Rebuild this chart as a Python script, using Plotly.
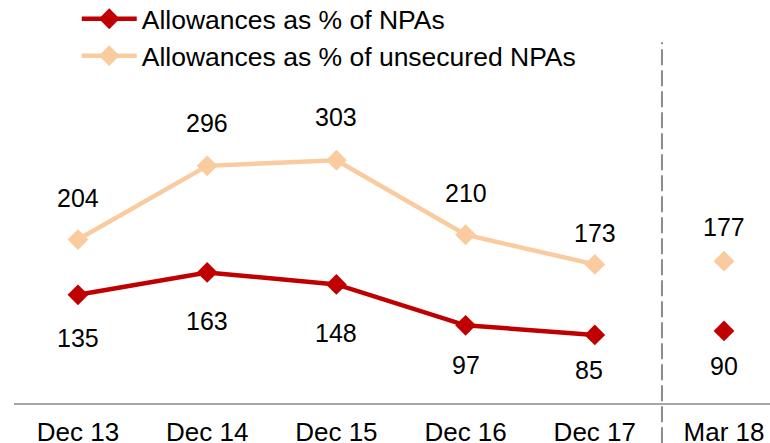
import plotly.graph_objects as go

categories = ["Dec 13", "Dec 14", "Dec 15", "Dec 16", "Dec 17", "Mar 18"]
allow_npa = [135, 163, 148, 97, 85, 90]
allow_unsec = [204, 296, 303, 210, 173, 177]

RED = "#C00000"
PEACH = "#F9CB9F"
FONT = "Liberation Sans, Arial, sans-serif"
FS = 25
MS = 16

# label offsets (styling)
up_shift = [42, 43, 43, 42, 31, 34]
dn_shift = [-43, -49, -49, -40, -35, -35]
dn_xshift = [0, 0, 0, 0, -6, 0]

x = list(range(len(categories)))
n_line = 5

fig = go.Figure()
fig.add_trace(go.Scatter(
    x=x[:n_line], y=allow_npa[:n_line], mode="lines+markers",
    name="Allowances as % of NPAs",
    line=dict(color=RED, width=4.5),
    marker=dict(symbol="diamond", size=MS, color=RED),
    legend="legend",
))
fig.add_trace(go.Scatter(
    x=x[:n_line], y=allow_unsec[:n_line], mode="lines+markers",
    name="Allowances as % of unsecured NPAs",
    line=dict(color=PEACH, width=4.5),
    marker=dict(symbol="diamond", size=MS, color=PEACH),
    legend="legend2",
))
fig.add_trace(go.Scatter(
    x=x[n_line:], y=allow_npa[n_line:], mode="markers", showlegend=False,
    marker=dict(symbol="diamond", size=MS, color=RED),
))
fig.add_trace(go.Scatter(
    x=x[n_line:], y=allow_unsec[n_line:], mode="markers", showlegend=False,
    marker=dict(symbol="diamond", size=MS, color=PEACH),
))

for i in x:
    fig.add_annotation(x=i, y=allow_unsec[i], text=str(allow_unsec[i]),
                       showarrow=False, yshift=up_shift[i],
                       font=dict(size=FS, color="#000000", family=FONT))
    fig.add_annotation(x=i, y=allow_npa[i], text=str(allow_npa[i]),
                       showarrow=False, yshift=dn_shift[i], xshift=dn_xshift[i],
                       font=dict(size=FS, color="#000000", family=FONT))

fig.add_shape(type="line", xref="x", yref="paper", x0=4.52, x1=4.52,
              y0=-0.1, y1=0.895, line=dict(color="#8C8C8C", width=2, dash="16px,5px"))

legend_style = dict(xanchor="left", yanchor="top",
                    font=dict(size=26.5, family=FONT), itemwidth=55,
                    bgcolor="rgba(0,0,0,0)")

fig.update_layout(
    width=770, height=443,
    margin=dict(l=14, r=0, t=0, b=40, autoexpand=False),
    paper_bgcolor="white", plot_bgcolor="white",
    font=dict(family=FONT, size=FS, color="#000000"),
    showlegend=True,
    legend=dict(x=0.083, y=1.0124, **legend_style),
    legend2=dict(x=0.083, y=0.9206, **legend_style),
    xaxis=dict(range=[-0.495, 5.356], tickmode="array", tickvals=x,
               ticktext=categories, showgrid=False, zeroline=False,
               showline=True, linecolor="#A6A6A6", linewidth=2,
               ticks="", ticklabelstandoff=5, automargin=False,
               tickfont=dict(size=26, family=FONT, color="#000000")),
    yaxis=dict(range=[0, 503], visible=False, showgrid=False, zeroline=False,
               automargin=False),
)

fig.write_html("out.html", config={"displayModeBar": False},
               post_script="document.body.style.margin='0';document.body.style.overflow='hidden';")
